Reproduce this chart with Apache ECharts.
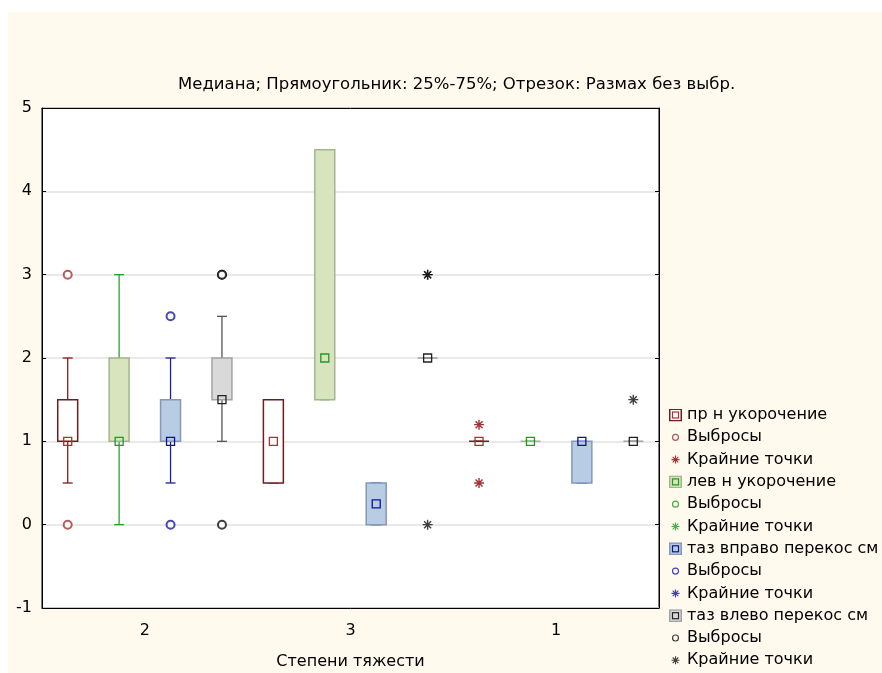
<!DOCTYPE html>
<html>
<head>
<meta charset="utf-8">
<script src="https://cdn.jsdelivr.net/npm/echarts@6/dist/echarts.min.js"></script>
<style>
  html, body { margin: 0; padding: 0; background: #fff; }
  #page { position: relative; width: 882px; height: 673px; background: #fff; }
  #chart { position: absolute; left: 8px; top: 12px; width: 874px; height: 661px; background: #FFF9EE; }
</style>
</head>
<body>
<div id="page"><div id="chart"></div></div>
<script>
// категории по оси X
const categories = ['2', '3', '1'];

// пр н укорочение
const prMedian = [1, 1, 1];
const prQ1 = [1, 0.5, 1];
const prQ3 = [1.5, 1.5, 1];
const prMin = [0.5, 0.5, 1];
const prMax = [2, 1.5, 1];
const prOutliers = [[0, 0], [0, 3]];
const prExtremes = [[2, 0.5], [2, 1.2]];

// лев н укорочение
const levMedian = [1, 2, 1];
const levQ1 = [1, 1.5, 1];
const levQ3 = [2, 4.5, 1];
const levMin = [0, 1.5, 1];
const levMax = [3, 4.5, 1];
const levOutliers = [];
const levExtremes = [];

// таз вправо перекос см
const rightMedian = [1, 0.25, 1];
const rightQ1 = [1, 0, 0.5];
const rightQ3 = [1.5, 0.5, 1];
const rightMin = [0.5, 0, 0.5];
const rightMax = [2, 0.5, 1];
const rightOutliers = [[0, 0], [0, 2.5]];
const rightExtremes = [];

// таз влево перекос см
const leftMedian = [1.5, 2, 1];
const leftQ1 = [1.5, 2, 1];
const leftQ3 = [2, 2, 1];
const leftMin = [1, 2, 1];
const leftMax = [2.5, 2, 1];
const leftOutliers = [[0, 0], [0, 3], [0, 3]];
const leftExtremes = [[1, 0], [1, 3], [1, 3], [2, 1.5]];

const FONT = "'DejaVu Sans', sans-serif";
const STAR_D = 'M8.6,0h2.8v20h-2.8z M0,8.6h20v2.8h-20z M2,4L4,2L18,16L16,18z M16,2L18,4L4,18L2,16z';
const STAR = 'path://' + STAR_D;

const groups = [
  { name: 'пр н укорочение', slot: 0, med: prMedian, q1: prQ1, q3: prQ3, lo: prMin, hi: prMax,
    out: prOutliers, ext: prExtremes,
    whisker: '#8B1A1A', border: '#6E1C1C', fill: '#FFFFFF', marker: '#A83232', point: '#A83232', star: '#8B0000' },
  { name: 'лев н укорочение', slot: 1, med: levMedian, q1: levQ1, q3: levQ3, lo: levMin, hi: levMax,
    out: levOutliers, ext: levExtremes,
    whisker: '#2EA02E', border: '#A3B58B', fill: '#D7E4BD', marker: '#1E9A1E', point: '#1E9A1E', star: '#1E9A1E' },
  { name: 'таз вправо перекос см', slot: 2, med: rightMedian, q1: rightQ1, q3: rightQ3, lo: rightMin, hi: rightMax,
    out: rightOutliers, ext: rightExtremes,
    whisker: '#1C1CA0', border: '#8398BC', fill: '#B8CCE4', marker: '#12128E', point: '#1A1AA8', star: '#12128E' },
  { name: 'таз влево перекос см', slot: 3, med: leftMedian, q1: leftQ1, q3: leftQ3, lo: leftMin, hi: leftMax,
    out: leftOutliers, ext: leftExtremes,
    whisker: '#555555', border: '#A3A3A3', fill: '#D9D9D9', marker: '#222222', point: '#111111', star: '#111111' }
];

const svgIcon = (body) => 'image://data:image/svg+xml;charset=utf-8,' +
  encodeURIComponent('<svg xmlns="http://www.w3.org/2000/svg" width="13" height="13">' + body + '</svg>');

const boxIcon = (g) => svgIcon(
  `<rect x="0.75" y="0.75" width="11.5" height="11.5" fill="${g.fill}" stroke="${g.border}" stroke-width="1.5"/>` +
  `<rect x="3.5" y="3.5" width="6" height="6" fill="none" stroke="${g.marker}" stroke-width="1.2"/>`);
const circleIcon = (g) => svgIcon(`<circle cx="6.5" cy="6.5" r="3" fill="none" stroke="${g.point}" stroke-width="1.2"/>`);
const starIcon = (g) => svgIcon(
  `<g transform="translate(2.5,2.5) scale(0.4)" fill="${g.star}"><path d="${STAR_D}"/></g>`);

const xPos = (g, i) => i + (g.slot - 1.5) / 4;

const series = [];
const legendData = [];
groups.forEach((g, k) => {
  const pad = ' '.repeat(k);
  series.push({
    name: g.name,
    type: 'custom',
    xAxisIndex: 1,
    yAxisIndex: 0,
    data: categories.map((c, i) => [xPos(g, i), g.lo[i], g.q1[i], g.med[i], g.q3[i], g.hi[i]]),
    encode: { x: 0, y: [1, 2, 3, 4, 5] },
    renderItem: (params, api) => {
      const x = api.value(0);
      const lo = api.coord([x, api.value(1)]);
      const q1 = api.coord([x, api.value(2)]);
      const md = api.coord([x, api.value(3)]);
      const q3 = api.coord([x, api.value(4)]);
      const hi = api.coord([x, api.value(5)]);
      const bw = api.size([0.097, 0])[0];
      const cw = bw / 2;
      const cx = lo[0];
      const ms = 8;
      const ln = { stroke: g.whisker, lineWidth: 1.3 };
      return {
        type: 'group',
        children: [
          { type: 'line', shape: { x1: cx, y1: lo[1], x2: cx, y2: q1[1] }, style: ln },
          { type: 'line', shape: { x1: cx, y1: q3[1], x2: cx, y2: hi[1] }, style: ln },
          { type: 'line', shape: { x1: cx - cw / 2, y1: lo[1], x2: cx + cw / 2, y2: lo[1] }, style: ln },
          { type: 'line', shape: { x1: cx - cw / 2, y1: hi[1], x2: cx + cw / 2, y2: hi[1] }, style: ln },
          { type: 'rect', shape: { x: cx - bw / 2, y: q3[1], width: bw, height: q1[1] - q3[1] },
            style: { fill: g.fill, stroke: g.border, lineWidth: 1.5 } },
          { type: 'rect', shape: { x: cx - ms / 2, y: md[1] - ms / 2, width: ms, height: ms },
            style: { fill: 'none', stroke: g.marker, lineWidth: 1.3 } }
        ]
      };
    }
  });
  series.push({
    name: 'Выбросы' + pad,
    type: 'scatter',
    xAxisIndex: 1,
    yAxisIndex: 0,
    symbol: 'emptyCircle',
    symbolSize: 8,
    itemStyle: { color: g.point, borderWidth: 1.3 },
    data: g.out.map(([ci, v]) => [xPos(g, ci), v])
  });
  series.push({
    name: 'Крайние точки' + pad,
    type: 'scatter',
    xAxisIndex: 1,
    yAxisIndex: 0,
    symbol: STAR,
    symbolSize: 10,
    itemStyle: { color: g.star },
    data: g.ext.map(([ci, v]) => [xPos(g, ci), v])
  });
  legendData.push({ name: g.name, icon: boxIcon(g) });
  legendData.push({ name: 'Выбросы' + pad, icon: circleIcon(g) });
  legendData.push({ name: 'Крайние точки' + pad, icon: starIcon(g) });
});

const chart = echarts.init(document.getElementById('chart'));
chart.setOption({
  animation: false,
  textStyle: { fontFamily: FONT },
  title: {
    text: 'Медиана; Прямоугольник: 25%-75%; Отрезок: Размах без выбр.',
    left: 170,
    top: 64,
    padding: 0,
    textStyle: { fontSize: 16.5, fontWeight: 'normal', color: '#000', fontFamily: FONT }
  },
  legend: {
    orient: 'vertical',
    left: 661,
    top: 395,
    height: 300,
    padding: 0,
    itemWidth: 13,
    itemHeight: 13,
    itemGap: 6.3,
    selectedMode: false,
    textStyle: { fontSize: 16, color: '#000', lineHeight: 16, fontFamily: FONT },
    data: legendData
  },
  grid: {
    left: 34, top: 96, right: 223, bottom: 65,
    outerBoundsMode: 'none',
    containLabel: false,
    show: true, backgroundColor: '#fff', borderColor: '#000', borderWidth: 1
  },
  xAxis: [
    {
      type: 'category', data: categories, position: 'bottom', boundaryGap: true,
      axisLine: { onZero: false, lineStyle: { color: '#000' } },
      axisTick: { alignWithLabel: true, inside: true, length: 4, lineStyle: { color: '#000' } },
      axisLabel: { fontSize: 16, color: '#000', margin: 15, fontFamily: FONT },
      splitLine: { show: false },
      name: 'Степени тяжести', nameLocation: 'middle', nameGap: 46,
      nameTextStyle: { fontSize: 16, color: '#000', fontFamily: FONT }
    },
    { type: 'value', min: -0.5, max: 2.5, show: false, axisLine: { onZero: false } },
    {
      type: 'category', data: categories, position: 'top', boundaryGap: true,
      axisLine: { onZero: false, lineStyle: { color: '#000' } },
      axisTick: { alignWithLabel: true, inside: true, length: 4, lineStyle: { color: '#000' } },
      axisLabel: { show: false }
    }
  ],
  yAxis: [
    {
      type: 'value', min: -1, max: 5, interval: 1,
      axisLine: { show: true, onZero: false, lineStyle: { color: '#000' } },
      axisTick: { show: true, inside: true, length: 4, lineStyle: { color: '#000' } },
      axisLabel: { fontSize: 16, color: '#000', margin: 10, fontFamily: FONT },
      splitLine: { lineStyle: { color: '#E2E2E2', width: 1.5 } }
    },
    {
      type: 'value', position: 'right', min: -1, max: 5, interval: 1,
      axisLine: { show: true, onZero: false, lineStyle: { color: '#000' } },
      axisTick: { show: true, inside: true, length: 4, lineStyle: { color: '#000' } },
      axisLabel: { show: false },
      splitLine: { show: false }
    }
  ],
  series: series
});
</script>
</body>
</html>
